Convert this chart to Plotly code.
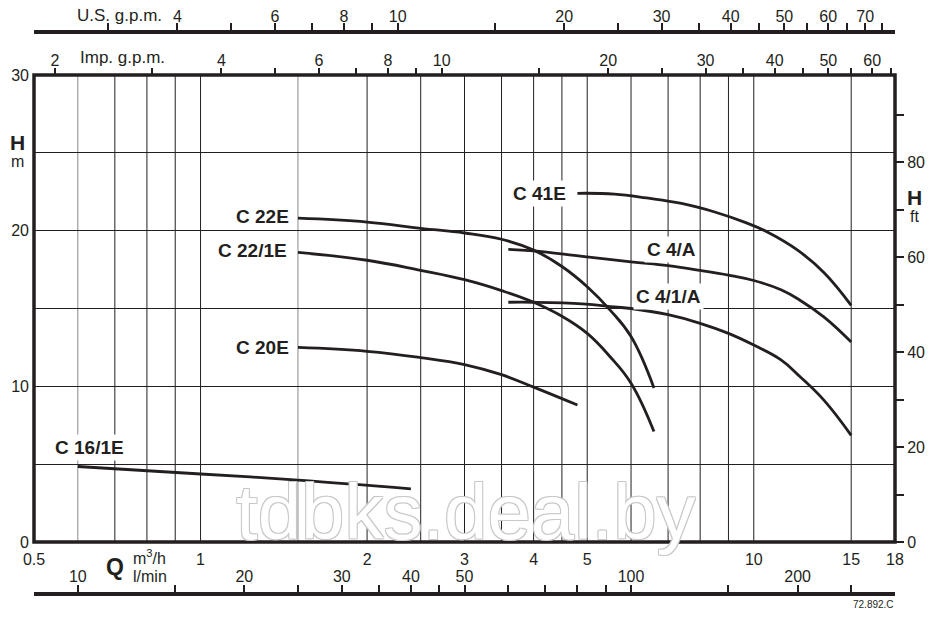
import math
import plotly.graph_objects as go

# flow in m3/h, head in m
Q_MIN, Q_MAX = 0.5, 18
H_MAX = 30
IMP_GPM = 0.27277   # m3/h per Imp. gpm
US_GPM = 0.22712    # m3/h per U.S. gpm
LMIN = 1000 / 60    # l/min per m3/h
FT = 0.3048         # m per ft

curves = {
    "C 16/1E": ([0.6, 1.0, 1.5, 2.4], [4.85, 4.37, 3.98, 3.42]),
    "C 22E": ([1.5, 2.0, 2.5, 3.0, 3.5, 4.0, 4.5, 5.0, 5.5, 6.0, 6.6],
              [20.8, 20.55, 20.15, 19.85, 19.45, 18.75, 17.7, 16.4, 14.9, 13.2, 9.9]),
    "C 22/1E": ([1.5, 2.0, 2.5, 3.0, 3.5, 4.0, 4.5, 5.0, 5.5, 6.0, 6.6],
                [18.6, 18.1, 17.45, 16.85, 16.15, 15.4, 14.5, 13.4, 11.9, 10.2, 7.1]),
    "C 20E": ([1.5, 2.0, 2.5, 3.0, 3.5, 4.0, 4.8],
              [12.5, 12.25, 11.85, 11.4, 10.75, 9.95, 8.8]),
    "C 41E": ([4.8, 5.6, 6.4, 7.4, 8.5, 9.7, 10.6, 12.0, 13.4, 15.0],
              [22.4, 22.35, 22.1, 21.75, 21.2, 20.5, 19.9, 18.75, 17.3, 15.2]),
    "C 4/A": ([3.6, 4.0, 4.9, 6.0, 7.0, 8.0, 9.0, 10.0, 11.2, 12.1, 13.4, 15.0],
              [18.8, 18.7, 18.35, 18.0, 17.75, 17.45, 17.15, 16.8, 16.2, 15.55, 14.45, 12.85]),
    "C 4/1/A": ([3.6, 4.0, 4.9, 5.6, 6.0, 7.0, 8.0, 9.0, 10.0, 11.2, 12.1, 13.4, 15.0],
                [15.4, 15.4, 15.3, 15.1, 15.0, 14.6, 14.05, 13.4, 12.65, 11.7, 10.65, 9.1, 6.85]),
}

q_ticks = [0.5, 1, 2, 3, 4, 5, 10, 15, 18]
grid_q = [0.7, 0.8, 0.9, 1, 2, 2.5, 3, 3.5, 4, 4.5, 5, 6, 7, 8, 9, 10, 15]
grid_q_gray = [0.6, 1.5]
lmin_ticks = [10, 15, 20, 25, 30, 35, 40, 45, 50, 60, 70, 80, 90, 100, 150, 200, 250, 300]
lmin_labels = [10, 20, 30, 40, 50, 100, 200, 300]
imp_ticks = [2, 3, 4, 5, 6, 7, 8, 9, 10, 15, 20, 25, 30, 35, 40, 45, 50, 55, 60, 65]
imp_labels = [2, 4, 6, 8, 10, 20, 30, 40, 50, 60]
us_ticks = [3, 4, 5, 6, 7, 8, 9, 10, 15, 20, 25, 30, 35, 40, 45, 50, 55, 60, 65, 70, 75]
us_labels = [4, 6, 8, 10, 20, 30, 40, 50, 60, 70]
h_ticks = [0, 5, 10, 15, 20, 25, 30]
h_labels = [0, 10, 20, 30]
ft_ticks = [0, 10, 20, 30, 40, 50, 60, 70, 80, 90]
ft_labels = [0, 20, 40, 60, 80]

# label placement: (x, y, xanchor, xshift, yshift)
label_pos = {
    "C 16/1E": (0.6, 4.85, "center", 12, 19),
    "C 22E": (1.5, 20.8, "right", -6, 2),
    "C 22/1E": (1.5, 18.6, "right", -8, 2),
    "C 20E": (1.5, 12.5, "right", -6, 0),
    "C 41E": (4.8, 22.4, "right", -8, 0),
    "C 4/A": (7.1, 18.82, "center", 0, 0),
    "C 4/1/A": (7.0, 15.74, "center", 0, 0),
}

INK = "#231f20"
FONT = "Liberation Sans"


def lg(v):
    return math.log10(v)


def txt(ticks, labels):
    return [str(t) if t in labels else "" for t in ticks]


fig = go.Figure()
for name, (q, h) in curves.items():
    fig.add_trace(go.Scatter(x=q, y=h, mode="lines", line=dict(color=INK, width=2.8, shape="spline", smoothing=1.2),
                             showlegend=False, hoverinfo="skip"))
for ax in ["x2", "x3", "x4"]:
    fig.add_trace(go.Scatter(x=[], y=[], xaxis=ax, yaxis="y", showlegend=False))
fig.add_trace(go.Scatter(x=[], y=[], xaxis="x", yaxis="y2", showlegend=False))

shapes = []
for g in grid_q:
    shapes.append(dict(type="line", xref="x", yref="y domain", x0=g, x1=g, y0=0, y1=1,
                       line=dict(color=INK, width=1), layer="below"))
for g in grid_q_gray:
    shapes.append(dict(type="line", xref="x", yref="y domain", x0=g, x1=g, y0=0, y1=1,
                       line=dict(color="#8a8a8a", width=1), layer="below"))
shapes.append(dict(type="rect", xref="x domain", yref="y domain", x0=0, x1=1, y0=0, y1=1,
                   line=dict(color=INK, width=3.5), layer="above"))

tf = dict(family=FONT, size=16, color=INK)
common = dict(type="log", showgrid=False, zeroline=False, tickfont=tf, tickcolor=INK, tickwidth=1.5,
              automargin=False)

# page body adds 8px on the left/top, so the figure is made 8px smaller
fig.update_layout(
    width=926, height=609,
    margin=dict(l=26, r=39, t=24, b=23, autoexpand=False),
    paper_bgcolor="white", plot_bgcolor="white",
    font=dict(family=FONT, color=INK),
    shapes=shapes,
    xaxis=dict(common, range=[lg(Q_MIN), lg(Q_MAX)], anchor="y", tickvals=q_ticks,
               ticktext=[str(t) for t in q_ticks], ticks="", ticklabelstandoff=6, showline=False),
    xaxis2=dict(common, overlaying="x", anchor="free", position=0, side="bottom",
                range=[lg(Q_MIN * LMIN), lg(Q_MAX * LMIN)], tickvals=lmin_ticks,
                ticktext=txt(lmin_ticks, lmin_labels), ticks="inside", ticklen=7,
                ticklabelposition="inside", showline=True, linewidth=3.5, linecolor=INK),
    xaxis3=dict(common, overlaying="x", anchor="y", side="top",
                range=[lg(Q_MIN / IMP_GPM), lg(Q_MAX / IMP_GPM)], tickvals=imp_ticks,
                ticktext=txt(imp_ticks, imp_labels), ticks="outside", ticklen=6, showline=False,
                ticklabelstandoff=-4),
    xaxis4=dict(common, overlaying="x", anchor="free", position=1, side="top",
                range=[lg(Q_MIN / US_GPM), lg(Q_MAX / US_GPM)], tickvals=us_ticks,
                ticktext=txt(us_ticks, us_labels), ticks="outside", ticklen=7,
                showline=True, linewidth=3.5, linecolor=INK, ticklabelstandoff=-5),
    yaxis=dict(domain=[0.0925, 0.9235], range=[0, H_MAX], tickvals=h_ticks, ticktext=txt(h_ticks, h_labels),
               showgrid=True, gridcolor=INK, gridwidth=1, zeroline=False, ticks="", tickfont=tf,
               ticklabelstandoff=4, automargin=False),
    yaxis2=dict(overlaying="y", side="right", anchor="x", range=[0, H_MAX / FT], tickvals=ft_ticks,
                ticktext=txt(ft_ticks, ft_labels), ticks="outside", ticklen=8, tickwidth=1.5,
                tickcolor=INK, showgrid=False, zeroline=False, tickfont=tf, automargin=False),
)

for name, (x, y, xa, xs, ys) in label_pos.items():
    fig.add_annotation(x=lg(x), y=y, text=f"<b>{name}</b>", showarrow=False, xanchor=xa, xshift=xs, yshift=ys,
                       bgcolor="white", borderpad=2, font=dict(family=FONT, size=19, color=INK))


def ptxt(text, x, y, size=16, xa="center", bold=False):
    fig.add_annotation(xref="paper", yref="paper", x=x, y=y, text=f"<b>{text}</b>" if bold else text,
                       showarrow=False, xanchor=xa, yanchor="middle", font=dict(family=FONT, size=size, color=INK))


ptxt("U.S. g.p.m.", 0.0476, 1.0285, 17, "left")
ptxt("Imp. g.p.m.", 0.0511, 0.9555, 17, "left")
ptxt("H", -0.0186, 0.8025, 21, bold=True)
ptxt("m", -0.0186, 0.770, 16)
ptxt("H", 1.0232, 0.7064, 21, bold=True)
ptxt("ft", 1.0232, 0.671, 16)
ptxt("Q", 0.094, 0.048, 23, bold=True)
ptxt("m<sup>3</sup>/h", 0.1127, 0.0658, 16, "left")
ptxt("l/min", 0.1127, 0.032, 16, "left")
ptxt("72.892.C", 1.0012, -0.0178, 10, "right")

fig.add_annotation(xref="paper", yref="paper", x=0.5017, y=0.064, text="tdbks.deal.by", showarrow=False,
                   font=dict(family="Liberation Sans", size=78, color="white",
                             shadow="-1px -1px 0 #c8c8c8, 1px -1px 0 #c8c8c8, -1px 1px 0 #c8c8c8, 1px 1px 0 #c8c8c8"))

fig.write_html("out.html")
